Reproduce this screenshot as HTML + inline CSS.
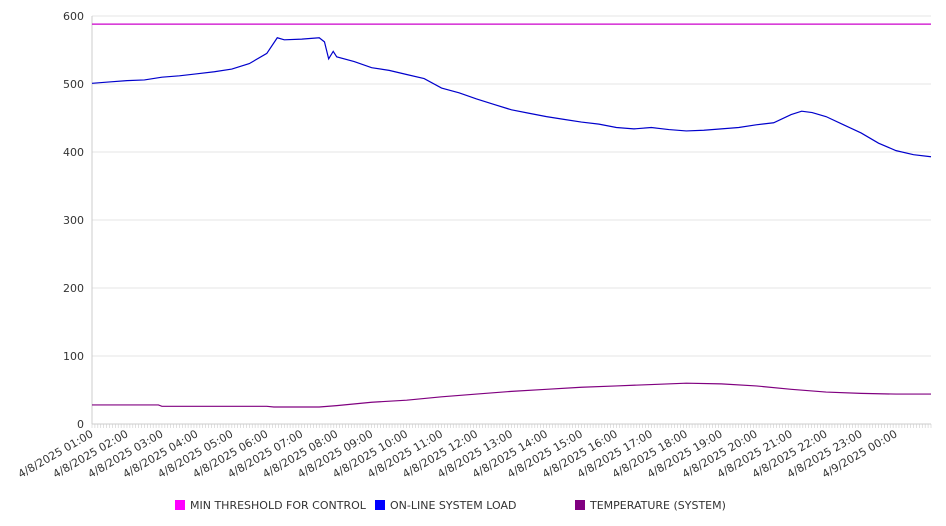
<!DOCTYPE html>
<html><head><meta charset="utf-8"><style>
body{margin:0;background:#fff;font-family:"DejaVu Sans","Liberation Sans",sans-serif}
svg{display:block}
</style></head><body>
<svg id="chart" width="946" height="526" xmlns="http://www.w3.org/2000/svg" font-family="DejaVu Sans, Liberation Sans, sans-serif"></svg>
<script>
const loadHours=[0,0.5,1,1.5,2,2.5,3,3.5,4,4.5,5,5.3,5.5,6,6.5,6.65,6.77,6.9,7,7.5,8,8.5,9,9.5,10,10.5,11,11.5,12,12.5,13,13.5,14,14.5,15,15.5,16,16.5,17,17.5,18,18.5,19,19.5,20,20.3,20.6,21,21.5,22,22.5,23,23.5,24];
const loadValues=[501,503,505,506,510,512,515,518,522,530,545,568,565,566,568,562,537,548,540,533,524,520,514,508,494,487,478,470,462,457,452,448,444,441,436,434,436,433,431,432,434,436,440,443,455,460,458,452,440,428,413,402,396,393];
const tempHours=[0,1,1.9,2,3,4,5,5.2,6,6.5,7,8,9,10,11,12,13,14,15,16,17,18,19,20,21,22,23,24];
const tempValues=[28,28,28,26,26,26,26,25,25,25,27,32,35,40,44,48,51,54,56,58,60,59,56,51,47,45,44,44];
const thresholdValue=588;
const yTicks=[0,100,200,300,400,500,600];
const xTickLabels=["4/8/2025 01:00","4/8/2025 02:00","4/8/2025 03:00","4/8/2025 04:00","4/8/2025 05:00","4/8/2025 06:00","4/8/2025 07:00","4/8/2025 08:00","4/8/2025 09:00","4/8/2025 10:00","4/8/2025 11:00","4/8/2025 12:00","4/8/2025 13:00","4/8/2025 14:00","4/8/2025 15:00","4/8/2025 16:00","4/8/2025 17:00","4/8/2025 18:00","4/8/2025 19:00","4/8/2025 20:00","4/8/2025 21:00","4/8/2025 22:00","4/8/2025 23:00","4/9/2025 00:00"];
const X0=92,X1=931,Y0=424,Y600=16;
const xs=h=>X0+h*(X1-X0)/24;
const ys=v=>Y0-v*(Y0-Y600)/600;
const svg=document.getElementById('chart');
const NS='http://www.w3.org/2000/svg';
function mk(t,a){const e=document.createElementNS(NS,t);for(const k in a)e.setAttribute(k,a[k]);svg.appendChild(e);return e;}
yTicks.forEach(v=>{
 const g=mk('line',{x1:X0,x2:X1,y1:ys(v),y2:ys(v),stroke:'#e6e6e6','stroke-width':1});
 
 
 const t=mk('text',{x:84,y:ys(v)+4,'text-anchor':'end','font-size':11,fill:'#333'});
 t.textContent=v;
 
 
});
const ax=mk('line',{x1:X0,x2:X0,y1:Y600,y2:Y0,stroke:'#ccc'});


const bx=mk('line',{x1:X0,x2:X1,y1:Y0,y2:Y0,stroke:'#ccc'});


for(let i=0;i<=288;i++){const x=xs(i/12);const m=mk('line',{x1:x,x2:x,y1:Y0,y2:Y0+4,stroke:'#ccc','stroke-width':0.6});
 
 }
xTickLabels.forEach((s,i)=>{
 const x=xs(i)+2,y=Y0+12;
 const t=mk('text',{x:x,y:y,'text-anchor':'end','font-size':11,fill:'#333',transform:`rotate(-30 ${x} ${y})`});
 t.textContent=s;
 
 
});
const th=mk('line',{x1:X0,x2:X1,y1:ys(thresholdValue),y2:ys(thresholdValue),stroke:'#cc00cc','stroke-width':1.2});


const lp=mk('polyline',{points:loadHours.map((h,i)=>xs(h)+','+ys(loadValues[i])).join(' '),fill:'none',stroke:'#0000cc','stroke-width':1.2});


const tp=mk('polyline',{points:tempHours.map((h,i)=>xs(h)+','+ys(tempValues[i])).join(' '),fill:'none',stroke:'#800080','stroke-width':1.2});


[["MIN THRESHOLD FOR CONTROL","#ff00ff",175],["ON-LINE SYSTEM LOAD","#0000ff",375],["TEMPERATURE (SYSTEM)","#800080",575]].forEach(([s,c,x])=>{
 const r=mk('rect',{x:x,y:500,width:10,height:10,fill:c});
 
 
 const t=mk('text',{x:x+15,y:509,'font-size':11,fill:'#333'});
 t.textContent=s;
 
 
});
</script>
</body></html>
